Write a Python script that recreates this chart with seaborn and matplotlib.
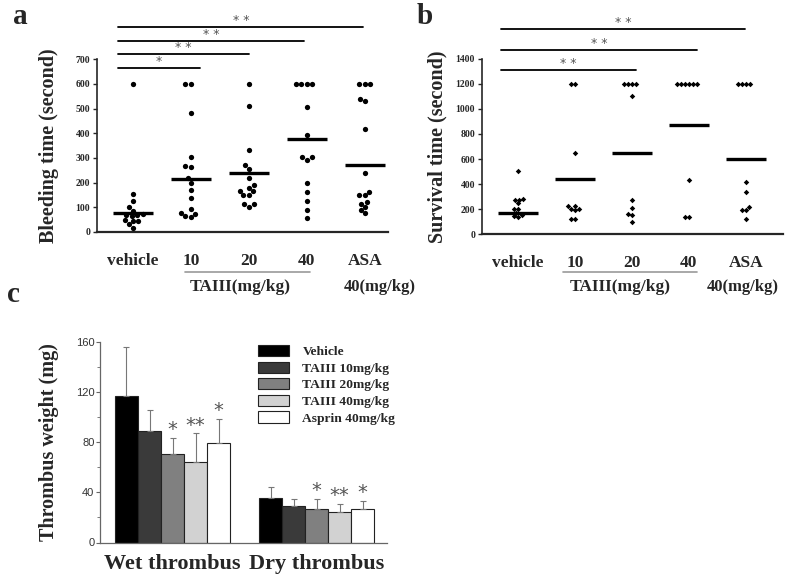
import pandas as pd
import matplotlib.pyplot as plt
import seaborn as sns

# panel a / b categories
groups = ["vehicle", "10", "20", "40", "ASA"]

# bleeding time (second)
bleed_vehicle = [600, 152, 124, 100, 87, 72, 70, 68, 66, 48, 46, 45, 31, 18]
bleed_10 = [600, 600, 481, 302, 268, 264, 218, 200, 169, 138, 93, 78, 74, 65, 61]
bleed_20 = [600, 510, 332, 271, 257, 219, 190, 180, 167, 165, 149, 149, 112, 112, 102]
bleed_40 = [600, 600, 600, 600, 508, 393, 302, 302, 291, 200, 162, 126, 88, 58]
bleed_asa = [600, 600, 600, 540, 532, 416, 240, 162, 149, 149, 122, 115, 102, 91, 77]
bleed_center = [75, 213, 240, 376, 270]

# survival time (second)
surv_vehicle = [505, 283, 276, 272, 247, 205, 200, 168, 150, 142, 140]
surv_10 = [1200, 1200, 645, 228, 222, 200, 195, 198, 122, 122]
surv_20 = [1200, 1200, 1200, 1200, 1105, 274, 207, 162, 154, 100]
surv_40 = [1200, 1200, 1200, 1200, 1200, 1200, 433, 141, 141]
surv_asa = [1200, 1200, 1200, 1200, 420, 340, 215, 194, 194, 122]
surv_center = [167, 438, 651, 868, 600]

# thrombus weight (mg)
thrombus_types = ["Wet thrombus", "Dry thrombus"]
treatments = ["Vehicle", "TAIII 10mg/kg", "TAIII 20mg/kg", "TAIII 40mg/kg", "Asprin 40mg/kg"]
wet_mean = [116.8, 88.4, 70.4, 64.0, 79.1]
wet_err = [38.5, 17.3, 12.7, 23.0, 19.4]
dry_mean = [35.8, 29.2, 26.3, 24.4, 26.8]
dry_err = [8.3, 5.6, 8.2, 6.4, 6.6]
wet_stars = ["", "", "*", "**", "*"]
dry_stars = ["", "", "*", "**", "*"]
bar_colors = ["#000000", "#3a3a3a", "#808080", "#d2d2d2", "#ffffff"]

sns.set_style("ticks")
plt.rcParams["font.family"] = ["Liberation Serif", "DejaVu Serif"]


def long_df(cols):
    rows = []
    for g, vals in zip(groups, cols):
        for v in vals:
            rows.append({"group": g, "value": v})
    return pd.DataFrame(rows)


df_a = long_df([bleed_vehicle, bleed_10, bleed_20, bleed_40, bleed_asa])
df_b = long_df([surv_vehicle, surv_10, surv_20, surv_40, surv_asa])

fig = plt.figure(figsize=(7.87, 5.79), dpi=100)
ax_a = fig.add_axes([97 / 787, 1 - 232 / 579, 291 / 787, 172.7 / 579])
ax_b = fig.add_axes([482 / 787, 1 - 234.3 / 579, 301 / 787, 175.6 / 579])
ax_c = fig.add_axes([100 / 787, 1 - 542.5 / 579, 287 / 787, 201 / 579])


def scatter_panel(ax, df, centers, ymax, ystep, marker, msize, ylabel, xlim, lpad):
    sns.swarmplot(data=df, x="group", y="value", order=groups, color="black",
                  size=msize, marker=marker, ax=ax, zorder=3)
    for i, v in enumerate(centers):
        ax.hlines(v, i - 0.35, i + 0.35, color="black", lw=2.4, zorder=4)
    ax.set_ylim(0, ymax)
    ax.set_yticks(range(0, ymax + 1, ystep))
    ax.set_xlim(*xlim)
    sns.despine(ax=ax)
    ax.spines["left"].set_linewidth(1.2)
    ax.spines["bottom"].set_linewidth(1.6)
    ax.tick_params(axis="y", length=3, width=1, labelsize=7, direction="out", pad=2)
    ax.tick_params(axis="x", length=0, labelsize=12.5, pad=15)
    for lab in ax.get_xticklabels() + ax.get_yticklabels():
        lab.set_fontweight("bold")
    ax.set_xlabel("")
    ax.set_ylabel(ylabel, fontsize=14.5, fontweight="bold", labelpad=lpad)


def sig_bar(ax, x0, x1, y, txt):
    ax.plot([x0, x1], [y, y], color="black", lw=1.3, clip_on=False)
    ax.text((x0 + x1) / 2, y, txt, ha="center", va="bottom", fontsize=9,
            color="#555555", family="DejaVu Sans")


def group_note(ax, x_line, y_line, x_txt, y_txt, x_asa):
    tr = ax.get_xaxis_transform()
    ax.plot(x_line, [y_line, y_line], color="#999999", lw=1.2, transform=tr, clip_on=False)
    ax.text(x_txt, y_txt, "TAIII(mg/kg)", transform=tr, ha="center", va="center",
            fontsize=12.5, fontweight="bold")
    ax.text(x_asa, y_txt, "40(mg/kg)", transform=tr, ha="center", va="center",
            fontsize=12, fontweight="bold")


# a: bleeding time
scatter_panel(ax_a, df_a, bleed_center, 700, 100, "o", 3.8,
              "Bleeding time (second)", (-0.62, 4.4), 12)
sig_bar(ax_a, -0.25, 1.15, 666, "*")
sig_bar(ax_a, -0.25, 2.0, 720, "* *")
sig_bar(ax_a, -0.25, 2.95, 775, "* *")
sig_bar(ax_a, -0.25, 3.97, 830, "* *")
group_note(ax_a, [0.9, 3.05], -0.232, 1.85, -0.318, 4.25)

# b: survival time
scatter_panel(ax_b, df_b, surv_center, 1400, 200, "D", 2.8,
              "Survival time (second)", (-0.63, 4.65), 6)
sig_bar(ax_b, -0.3, 2.07, 1309, "* *")
sig_bar(ax_b, -0.3, 3.14, 1468, "* *")
sig_bar(ax_b, -0.3, 3.98, 1633, "* *")
group_note(ax_b, [0.79, 3.14], -0.215, 1.79, -0.30, 3.95)

# c: thrombus weight
rows = []
for t, means in zip(thrombus_types, [wet_mean, dry_mean]):
    for tr, m in zip(treatments, means):
        rows.append({"type": t, "treatment": tr, "mean": m})
df_c = pd.DataFrame(rows)

sns.barplot(data=df_c, x="type", y="mean", hue="treatment", order=thrombus_types,
            hue_order=treatments, palette=bar_colors, edgecolor="#222222",
            linewidth=0.8, errorbar=None, width=0.8, ax=ax_c)

errs = [wet_err, dry_err]
means_all = [wet_mean, dry_mean]
stars = [wet_stars, dry_stars]
bar_conts = list(ax_c.containers)
for j, cont in enumerate(bar_conts):
    for k, bar in enumerate(cont):
        xc = bar.get_x() + bar.get_width() / 2
        top = means_all[k][j]
        ax_c.errorbar(xc, top, yerr=[[0], [errs[k][j]]], color="#777777",
                      lw=0.8, capsize=2, capthick=0.8, zorder=1)
        if stars[k][j]:
            ax_c.text(xc, top + errs[k][j] + 6.5, stars[k][j], ha="center", va="center",
                      fontsize=14, color="#555555", family="DejaVu Sans")

ax_c.set_xlim(-0.504, 1.489)
ax_c.set_ylim(0, 160)
ax_c.set_yticks([0, 40, 80, 120, 160])
ax_c.set_yticks([20, 60, 100, 140], minor=True)
sns.despine(ax=ax_c)
for s in ["left", "bottom"]:
    ax_c.spines[s].set_color("#666666")
    ax_c.spines[s].set_linewidth(0.9)
ax_c.tick_params(axis="y", which="major", length=3, width=0.8, color="#666666",
                 labelsize=8, labelcolor="#333333", pad=1)
ax_c.tick_params(axis="y", which="minor", length=2, width=0.6, color="#666666")
for lab in ax_c.get_yticklabels():
    lab.set_family("Liberation Sans")
ax_c.tick_params(axis="x", length=0, labelsize=16, pad=8)
for lab in ax_c.get_xticklabels():
    lab.set_fontweight("bold")
ax_c.set_xlabel("")
ax_c.set_ylabel("Thrombus weight (mg)", fontsize=14.5, fontweight="bold", labelpad=12)

handles, labels = ax_c.get_legend_handles_labels()
ax_c.legend(handles, labels, loc="upper left", bbox_to_anchor=(258 / 787, 1 - 345 / 579),
            bbox_transform=fig.transFigure, frameon=False,
            prop={"weight": "bold", "size": 9.7}, handlelength=2.3, handleheight=0.9,
            labelspacing=0.25, handletextpad=1.0, borderpad=0, borderaxespad=0)

# panel letters
fig.text(20 / 787, 1 - 17 / 579, "a", fontsize=21, fontweight="bold", ha="center", va="center")
fig.text(425 / 787, 1 - 17 / 579, "b", fontsize=21, fontweight="bold", ha="center", va="center")
fig.text(13 / 787, 1 - 295 / 579, "c", fontsize=21, fontweight="bold", ha="center", va="center")

fig.savefig("out.png", dpi=100)
